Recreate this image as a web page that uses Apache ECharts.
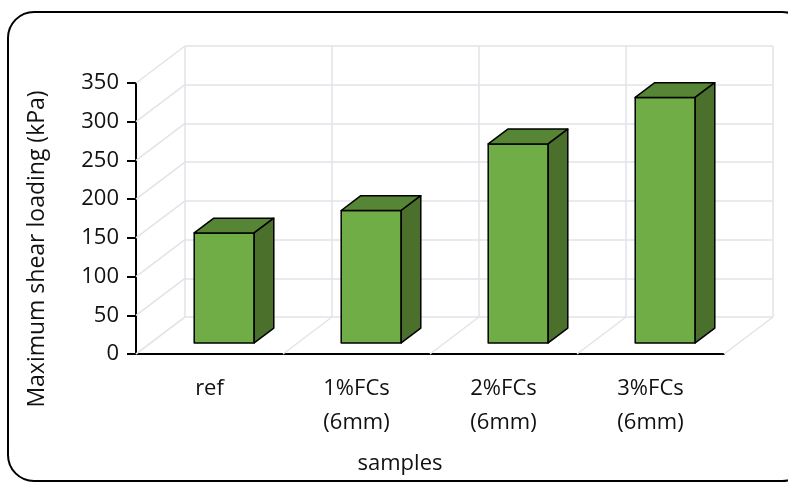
<!DOCTYPE html>
<html style="height: 100%">
<head>
    <meta charset="UTF-8">
    <title>Maximum shear loading</title>
    <script src="https://cdn.jsdelivr.net/npm/echarts/dist/echarts.min.js"></script>
</head>
<body style="height: 100%; margin: 0; background: #fff">
    <div id="main" style="width: 788px; height: 483px"></div>
    <script type="text/javascript">
        // data
        var categories = ['ref', '1%FCs\n(6mm)', '2%FCs\n(6mm)', '3%FCs\n(6mm)'];
        var shearLoading = [142, 171, 257, 317];
        var wallTicks = [0, 50, 100, 150, 200, 250, 300, 350];
        var floorLines = [0, 1, 2, 3, 4];

        // pseudo 3D depth vector (pixels) and bar depth span
        var DX = 49, DY = -37;
        var F0 = 0.3, F1 = 0.7;
        var gridColor = '#e1e3e8';
        var font = '"Open Sans", "Noto Sans", sans-serif';

        var myChart = echarts.init(document.getElementById('main'));

        function renderBar(params, api) {
            var i = api.value(0);
            var base = api.coord([i, 0]);
            var top = api.coord([i, api.value(1)]);
            var half = 30;
            var x0 = base[0] + F0 * DX - half, x1 = base[0] + F0 * DX + half;
            var yb = base[1] + F0 * DY, yt = top[1] + F0 * DY;
            var dx = (F1 - F0) * DX, dy = (F1 - F0) * DY;
            var line = { stroke: '#000', lineWidth: 1.5, lineJoin: 'round' };
            return {
                type: 'group',
                children: [
                    { type: 'polygon', shape: { points: [[x0, yb], [x1, yb], [x1, yt], [x0, yt]] },
                      style: Object.assign({ fill: '#70ad47' }, line) },
                    { type: 'polygon', shape: { points: [[x0, yt], [x1, yt], [x1 + dx, yt + dy], [x0 + dx, yt + dy]] },
                      style: Object.assign({ fill: '#558535' }, line) },
                    { type: 'polygon', shape: { points: [[x1, yb], [x1 + dx, yb + dy], [x1 + dx, yt + dy], [x1, yt]] },
                      style: Object.assign({ fill: '#4a702b' }, line) }
                ]
            };
        }

        var option = {
            animation: false,
            grid: [
                { left: 136, top: 83, width: 588, height: 271 },
                { left: 185, top: 46, width: 588, height: 271 }
            ],
            graphic: [
                { type: 'rect', shape: { x: 8, y: 12, width: 800, height: 469, r: 26 },
                  style: { fill: 'none', stroke: '#000', lineWidth: 2 } },
                { type: 'text', x: 37, y: 249, rotation: Math.PI / 2,
                  style: { text: 'Maximum shear loading (kPa)', font: '23px ' + font, fill: '#111',
                           align: 'center', verticalAlign: 'middle' } },
                { type: 'text', x: 400, y: 464,
                  style: { text: 'samples', font: '22px ' + font, fill: '#111',
                           align: 'center', verticalAlign: 'middle' } }
            ],
            xAxis: [
                {
                    gridIndex: 0, type: 'category', data: categories,
                    axisLine: { lineStyle: { color: '#000', width: 2 } },
                    axisTick: { length: 9, lineStyle: { color: '#000', width: 2 } },
                    axisLabel: { color: '#111', fontSize: 22, fontFamily: font, lineHeight: 34, margin: 18, interval: 0 },
                    splitLine: { show: false }
                },
                {
                    gridIndex: 1, type: 'value', min: 0, max: 4, interval: 1,
                    axisLine: { show: false }, axisTick: { show: false }, axisLabel: { show: false },
                    splitLine: { show: true, lineStyle: { color: gridColor, width: 1.5 } }
                }
            ],
            yAxis: [
                {
                    gridIndex: 0, type: 'value', min: 0, max: 350, interval: 50,
                    axisLine: { show: true, lineStyle: { color: '#000', width: 2 } },
                    axisTick: { show: true, length: 9, lineStyle: { color: '#000', width: 2 } },
                    axisLabel: { color: '#111', fontSize: 22, fontFamily: font, margin: 17, padding: [4, 0, 0, 0] },
                    splitLine: { show: false }
                },
                {
                    gridIndex: 1, type: 'value', min: 0, max: 350, interval: 50,
                    axisLine: { show: false }, axisTick: { show: false }, axisLabel: { show: false },
                    splitLine: { show: true, lineStyle: { color: gridColor, width: 1.5 } }
                }
            ],
            series: [
                {
                    // left side wall
                    type: 'custom', xAxisIndex: 0, yAxisIndex: 0, z: 1, silent: true,
                    data: wallTicks.map(function (v) { return [0, v]; }),
                    renderItem: function (params, api) {
                        var y = api.coord([0, api.value(1)])[1];
                        var x = params.coordSys.x;
                        return { type: 'line', shape: { x1: x, y1: y, x2: x + DX, y2: y + DY },
                                 style: { stroke: gridColor, lineWidth: 1.5 } };
                    }
                },
                {
                    // floor
                    type: 'custom', xAxisIndex: 0, yAxisIndex: 0, z: 1, silent: true,
                    data: floorLines.map(function (k) { return [k, 0]; }),
                    renderItem: function (params, api) {
                        var cs = params.coordSys;
                        var x = cs.x + api.value(0) * cs.width / categories.length;
                        var y = api.coord([0, 0])[1];
                        return { type: 'line', shape: { x1: x, y1: y, x2: x + DX, y2: y + DY },
                                 style: { stroke: gridColor, lineWidth: 1.5 } };
                    }
                },
                {
                    name: 'Maximum shear loading',
                    type: 'custom', xAxisIndex: 0, yAxisIndex: 0, z: 3,
                    data: shearLoading.map(function (v, i) { return [i, v]; }),
                    renderItem: renderBar
                }
            ]
        };

        myChart.setOption(option);
    </script>
</body>
</html>
